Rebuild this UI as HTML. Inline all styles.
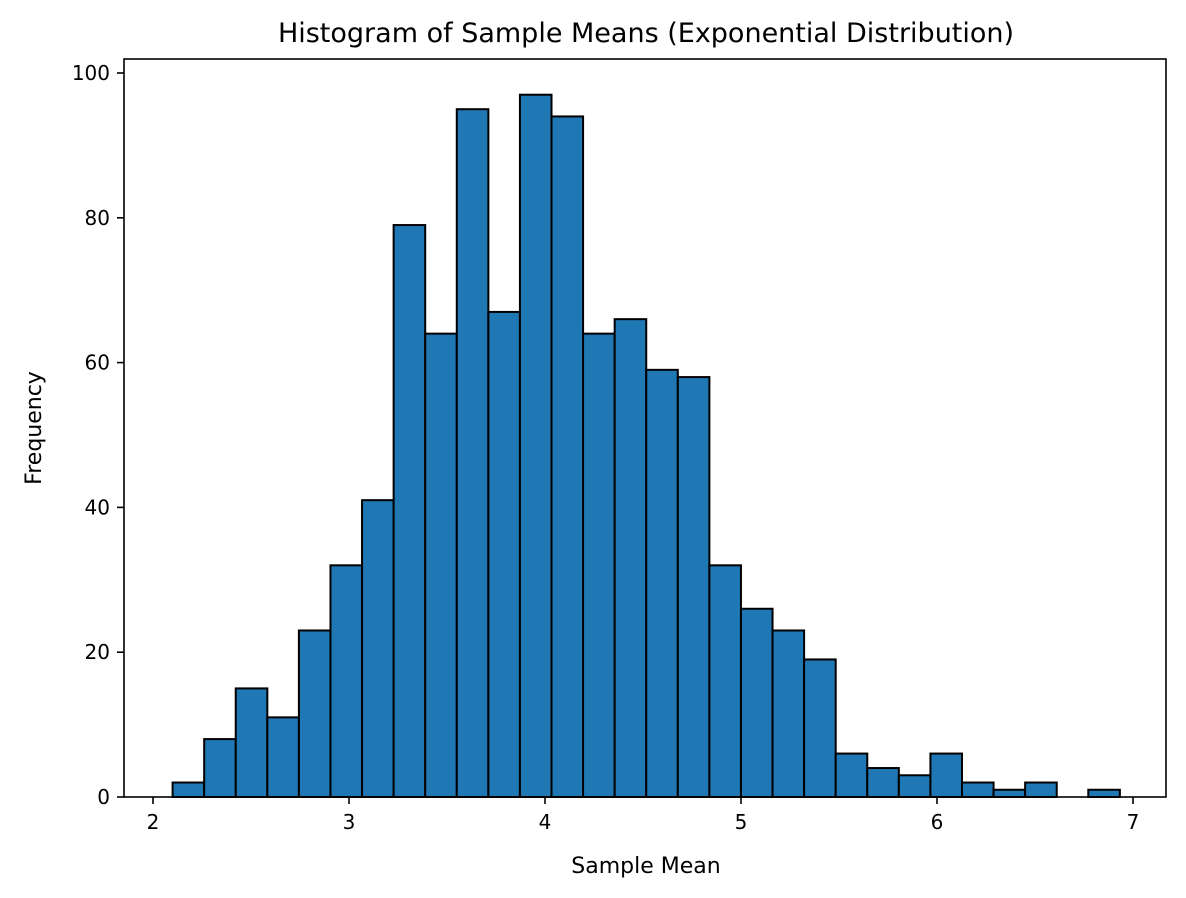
<!DOCTYPE html>
<html><head><meta charset="utf-8"><style>
html,body{margin:0;padding:0;background:#fff;}
svg{display:block;font-family:"Liberation Sans","DejaVu Sans",sans-serif;}
</style></head><body>
<svg id="chart" width="1186" height="898" viewBox="0 0 1186 898">
<text x="646" y="42" text-anchor="middle" font-size="27" font-family="DejaVu Sans, Liberation Sans, sans-serif">Histogram of Sample Means (Exponential Distribution)</text>
<g id="bars"></g>
<rect x="124" y="59" width="1042" height="738" fill="none" stroke="#000" stroke-width="1.6"/>
<g id="xticks"></g>
<g id="yticks"></g>
<text x="646" y="873" text-anchor="middle" font-size="22" font-family="DejaVu Sans, Liberation Sans, sans-serif">Sample Mean</text>
<text transform="translate(41,428) rotate(-90)" text-anchor="middle" font-size="22" font-family="DejaVu Sans, Liberation Sans, sans-serif">Frequency</text>
</svg>
<script>
const binStart = 2.10;
const binWidth = 0.1611;
const counts = [2,8,15,11,23,32,41,79,64,95,67,97,94,64,66,59,58,32,26,23,19,6,4,3,6,2,1,2,0,1];
const xTickLabels = [2,3,4,5,6,7];
const yTickLabels = [0,20,40,60,80,100];

const NS = "http://www.w3.org/2000/svg";
function xs(v){ return 153 + (v - 2) * 196; }
function ys(v){ return 797 - v * 7.24; }

const bars = document.getElementById('bars');
counts.forEach((c, i) => {
  if (c <= 0) return;
  const x0 = xs(binStart + i * binWidth), x1 = xs(binStart + (i + 1) * binWidth);
  const r = document.createElementNS(NS, 'rect');
  r.setAttribute('x', x0); r.setAttribute('width', x1 - x0);
  r.setAttribute('y', ys(c)); r.setAttribute('height', ys(0) - ys(c));
  r.setAttribute('fill', '#1f77b4'); r.setAttribute('stroke', '#000'); r.setAttribute('stroke-width', '2');
  
  
  bars.appendChild(r);
});

const xt = document.getElementById('xticks');
xTickLabels.forEach(v => {
  const l = document.createElementNS(NS, 'line');
  l.setAttribute('x1', xs(v)); l.setAttribute('x2', xs(v));
  l.setAttribute('y1', 797); l.setAttribute('y2', 804); l.setAttribute('stroke', '#000'); l.setAttribute('stroke-width', '1.6');
  
  
  xt.appendChild(l);
  const t = document.createElementNS(NS, 'text');
  t.setAttribute('x', xs(v)); t.setAttribute('y', 829); t.setAttribute('text-anchor', 'middle');
  t.setAttribute('font-size', '20'); t.setAttribute('font-family', 'DejaVu Sans, Liberation Sans, sans-serif');
  t.textContent = v;
  
  
  xt.appendChild(t);
});

const yt = document.getElementById('yticks');
yTickLabels.forEach(v => {
  const l = document.createElementNS(NS, 'line');
  l.setAttribute('x1', 117); l.setAttribute('x2', 124);
  l.setAttribute('y1', ys(v)); l.setAttribute('y2', ys(v)); l.setAttribute('stroke', '#000'); l.setAttribute('stroke-width', '1.6');
  
  
  yt.appendChild(l);
  const t = document.createElementNS(NS, 'text');
  t.setAttribute('x', 110); t.setAttribute('y', ys(v) + 7); t.setAttribute('text-anchor', 'end');
  t.setAttribute('font-size', '20'); t.setAttribute('font-family', 'DejaVu Sans, Liberation Sans, sans-serif');
  t.textContent = v;
  
  
  yt.appendChild(t);
});
</script>
</body></html>
